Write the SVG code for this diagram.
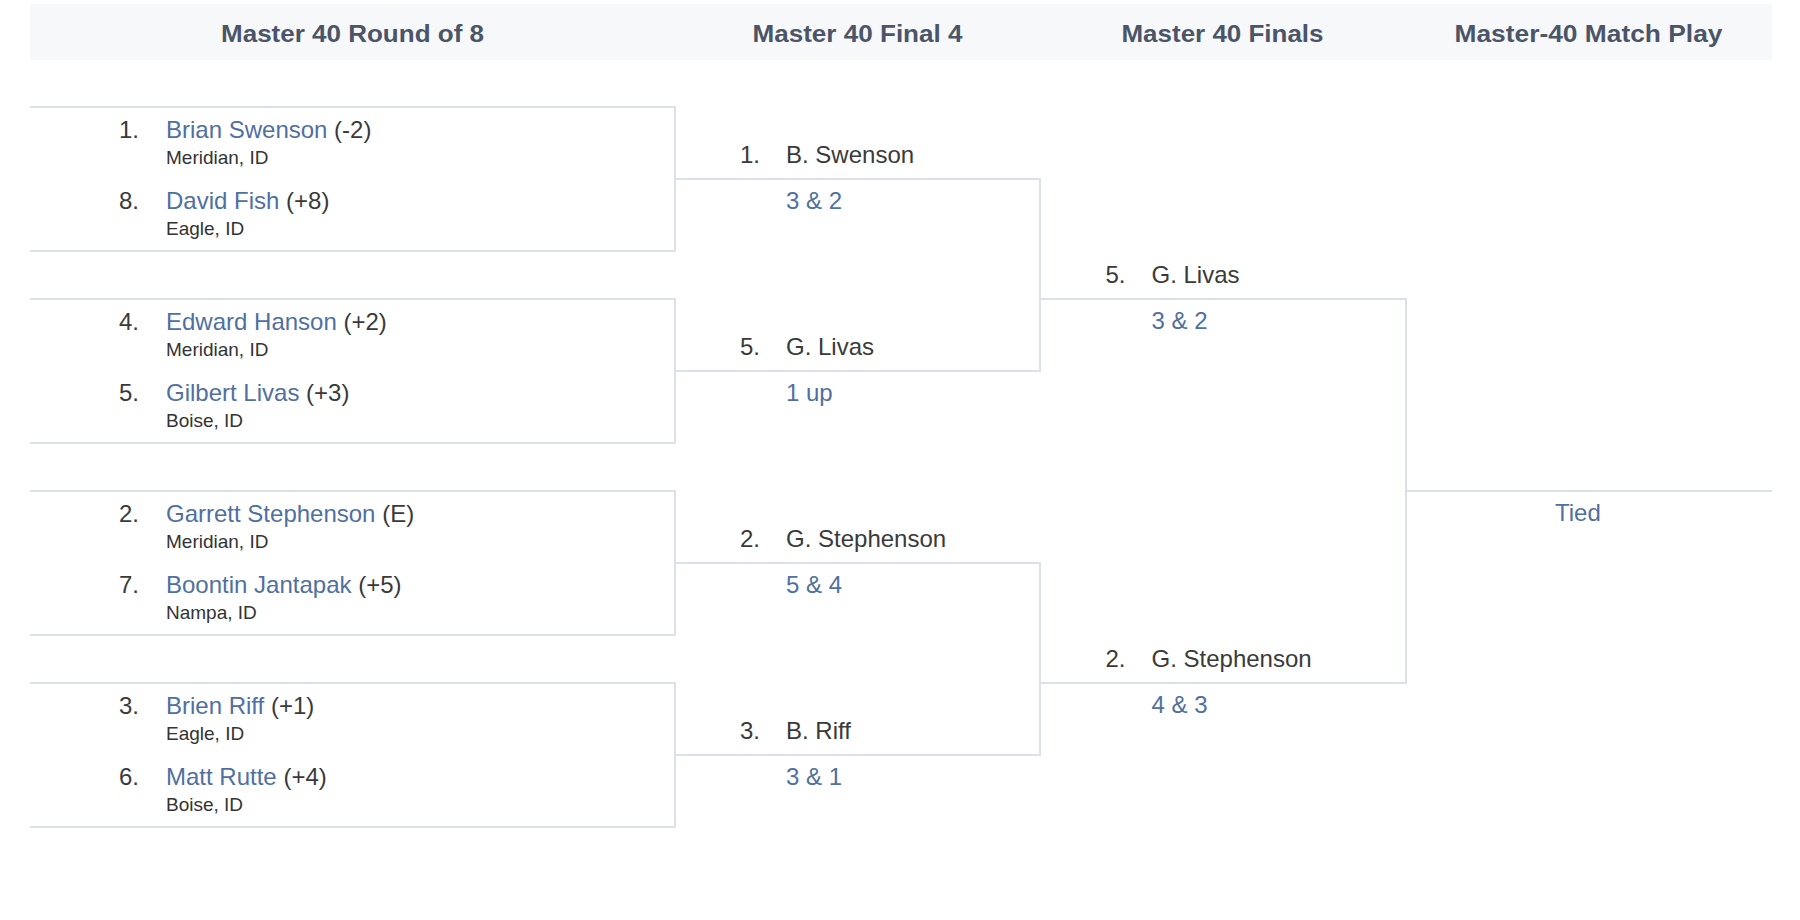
<svg xmlns="http://www.w3.org/2000/svg" width="1800" height="920" viewBox="0 0 1800 920">
<style>
.hdr{font-family:"Liberation Sans",Arial,sans-serif;font-size:24px;font-weight:bold;fill:#4b5567;text-anchor:middle}
.t{font-family:"Liberation Sans",Arial,sans-serif;font-size:24px;fill:#3a3a3a}
.lk{fill:#4f70a0}
.city{font-family:"Liberation Sans",Arial,sans-serif;font-size:19px;fill:#333333}
.ln{fill:none;stroke:#dde1e7;stroke-width:2}
</style>
<rect x="0" y="0" width="1800" height="920" fill="#ffffff"/>
<g id="header">
<rect x="30" y="4" width="1742" height="56" fill="#f7f8fa"/>
<text class="hdr" x="352.5" y="42" textLength="263" lengthAdjust="spacingAndGlyphs">Master 40 Round of 8</text>
<text class="hdr" x="857.5" y="42" textLength="210" lengthAdjust="spacingAndGlyphs">Master 40 Final 4</text>
<text class="hdr" x="1222.5" y="42" textLength="202" lengthAdjust="spacingAndGlyphs">Master 40 Finals</text>
<text class="hdr" x="1588.5" y="42" textLength="268" lengthAdjust="spacingAndGlyphs">Master-40 Match Play</text>
</g>
<g id="connectors">
<path class="ln" d="M30 107H675V251H30"/>
<path class="ln" d="M30 299H675V443H30"/>
<path class="ln" d="M30 491H675V635H30"/>
<path class="ln" d="M30 683H675V827H30"/>
<path class="ln" d="M675 179H1040V371H675"/>
<path class="ln" d="M675 563H1040V755H675"/>
<path class="ln" d="M1040 299H1406V683H1040"/>
<path class="ln" d="M1406 491H1772"/>
</g>
<g id="m1">
<text class="t" x="119" y="137.5">1.</text>
<text class="t" x="166" y="137.5"><tspan class="lk">Brian Swenson</tspan> (-2)</text>
<text class="city" x="166" y="163.5">Meridian, ID</text>
<text class="t" x="119" y="208.5">8.</text>
<text class="t" x="166" y="208.5"><tspan class="lk">David Fish</tspan> (+8)</text>
<text class="city" x="166" y="234.5">Eagle, ID</text>
</g>
<g id="m2">
<text class="t" x="119" y="329.5">4.</text>
<text class="t" x="166" y="329.5"><tspan class="lk">Edward Hanson</tspan> (+2)</text>
<text class="city" x="166" y="355.5">Meridian, ID</text>
<text class="t" x="119" y="400.5">5.</text>
<text class="t" x="166" y="400.5"><tspan class="lk">Gilbert Livas</tspan> (+3)</text>
<text class="city" x="166" y="426.5">Boise, ID</text>
</g>
<g id="m3">
<text class="t" x="119" y="521.5">2.</text>
<text class="t" x="166" y="521.5"><tspan class="lk">Garrett Stephenson</tspan> (E)</text>
<text class="city" x="166" y="547.5">Meridian, ID</text>
<text class="t" x="119" y="592.5">7.</text>
<text class="t" x="166" y="592.5"><tspan class="lk">Boontin Jantapak</tspan> (+5)</text>
<text class="city" x="166" y="618.5">Nampa, ID</text>
</g>
<g id="m4">
<text class="t" x="119" y="713.5">3.</text>
<text class="t" x="166" y="713.5"><tspan class="lk">Brien Riff</tspan> (+1)</text>
<text class="city" x="166" y="739.5">Eagle, ID</text>
<text class="t" x="119" y="784.5">6.</text>
<text class="t" x="166" y="784.5"><tspan class="lk">Matt Rutte</tspan> (+4)</text>
<text class="city" x="166" y="810.5">Boise, ID</text>
</g>
<g id="sf1">
<text class="t" x="740" y="162.5">1.</text>
<text class="t" x="786" y="162.5">B. Swenson</text>
<text class="t lk" x="786" y="209">3 &amp; 2</text>
<text class="t" x="740" y="354.5">5.</text>
<text class="t" x="786" y="354.5">G. Livas</text>
<text class="t lk" x="786" y="401">1 up</text>
</g>
<g id="sf2">
<text class="t" x="740" y="546.5">2.</text>
<text class="t" x="786" y="546.5">G. Stephenson</text>
<text class="t lk" x="786" y="593">5 &amp; 4</text>
<text class="t" x="740" y="738.5">3.</text>
<text class="t" x="786" y="738.5">B. Riff</text>
<text class="t lk" x="786" y="785">3 &amp; 1</text>
</g>
<g id="final">
<text class="t" x="1105.5" y="282.5">5.</text>
<text class="t" x="1151.5" y="282.5">G. Livas</text>
<text class="t lk" x="1151.5" y="329">3 &amp; 2</text>
<text class="t" x="1105.5" y="666.5">2.</text>
<text class="t" x="1151.5" y="666.5">G. Stephenson</text>
<text class="t lk" x="1151.5" y="713">4 &amp; 3</text>
</g>
<g id="result">
<text class="t lk" x="1555" y="521">Tied</text>
</g>
</svg>
